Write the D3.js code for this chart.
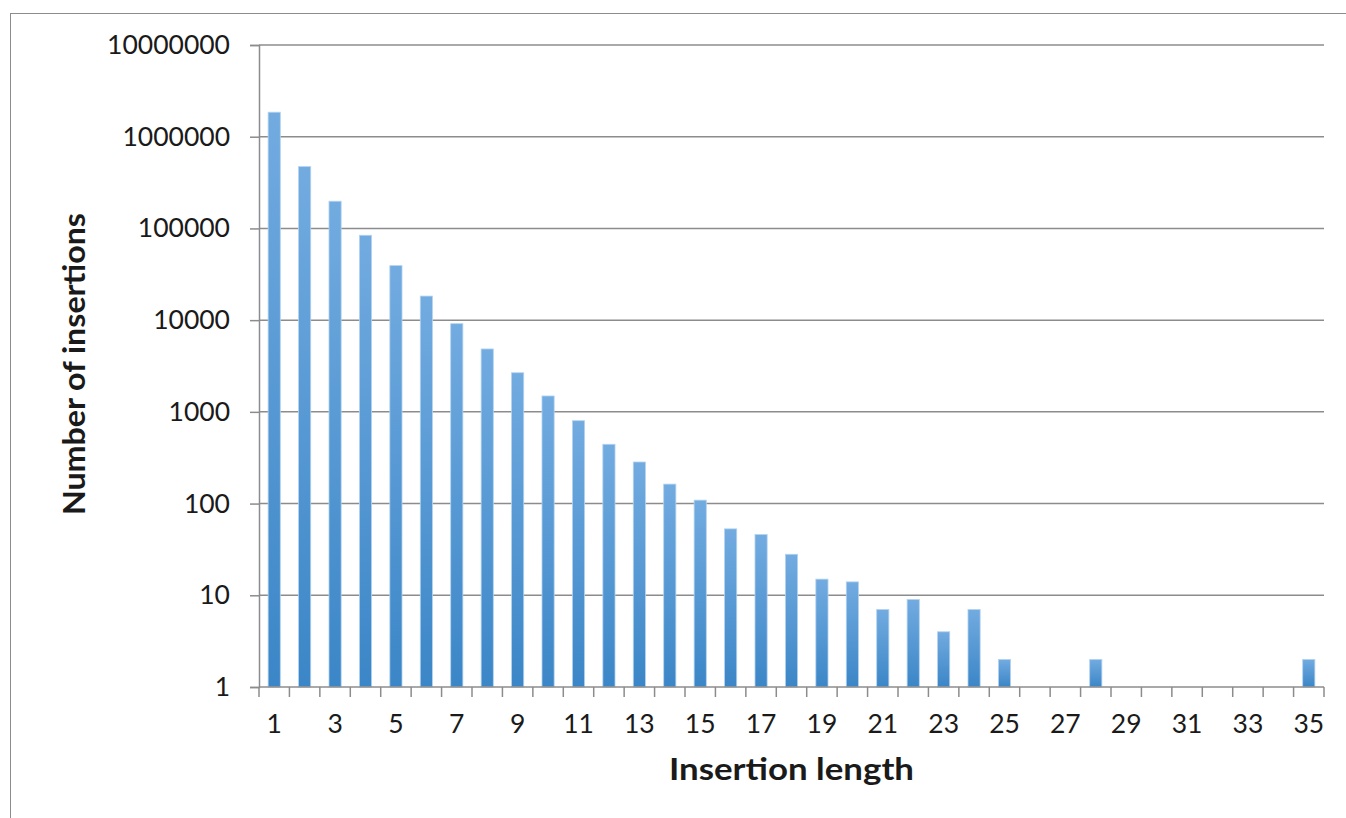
<!DOCTYPE html>
<html>
<head>
<meta charset="utf-8">
<script src="https://cdn.jsdelivr.net/npm/d3@7"></script>
<style>
  html, body { margin: 0; padding: 0; background: #fff; }
  svg { display: block; }
  text { font-family: Lato, "Open Sans", sans-serif; fill: #1a1a1a; }
</style>
</head>
<body>
<svg id="chart" width="1346" height="818"></svg>
<script>
// ---- data ----
const categories = d3.range(1, 36);
const counts = [1850000, 472000, 198000, 84200, 39300, 18300, 9150, 4850, 2670, 1490,
                801, 443, 284, 163, 109, 53, 46, 28, 15, 14,
                7, 9, 4, 7, 2, null, null, 2, null, null,
                null, null, null, null, 2];
const yTickValues = [1, 10, 100, 1000, 10000, 100000, 1000000, 10000000];
const xTickLabels = categories.filter(c => c % 2 === 1);
const xTitle = "Insertion length";
const yTitle = "Number of insertions";

// ---- layout ----
const svg = d3.select("#chart");
const plotL = 259, plotR = 1324, plotT = 45, plotB = 687;

// outer frame
svg.append("rect")
  .attr("x", 10.5).attr("y", 13.5)
  .attr("width", 1400).attr("height", 900)
  .attr("fill", "none").attr("stroke", "#8c8c8c").attr("stroke-width", 1);

const x = d3.scaleBand().domain(categories).range([plotL, plotR])
  .paddingInner(0.6).paddingOuter(0.3);
const y = d3.scaleLog().domain([1, 1e7]).range([plotB, plotT]);

// gradient
const defs = svg.append("defs");
const grad = defs.append("linearGradient").attr("id", "barGrad")
  .attr("x1", 0).attr("y1", 0).attr("x2", 0).attr("y2", 1);
grad.append("stop").attr("offset", "0%").attr("stop-color", "#72abe0");
grad.append("stop").attr("offset", "100%").attr("stop-color", "#3b86c7");

// gridlines
svg.append("g").selectAll("line").data(yTickValues.filter(v => v > 1)).join("line")
  .attr("x1", plotL).attr("x2", plotR)
  .attr("y1", d => y(d)).attr("y2", d => y(d))
  .attr("stroke", "#8c8c8c").attr("stroke-width", 1.5);

// y axis
const yAxis = d3.axisLeft(y).tickValues(yTickValues).tickFormat(d3.format("d"))
  .tickSize(9).tickPadding(20);
const gy = svg.append("g").attr("transform", `translate(${plotL},0)`).call(yAxis);
gy.select(".domain").attr("stroke", "#8c8c8c").attr("stroke-width", 1.5);
gy.selectAll(".tick line").attr("stroke", "#8c8c8c").attr("stroke-width", 1.5);
gy.selectAll(".tick text").attr("font-size", 26.5).attr("fill", "#1a1a1a")
  .attr("font-family", "Lato, 'Open Sans', sans-serif");

// bars
const barData = categories.map((c, i) => ({ c, v: counts[i] })).filter(d => d.v != null);
svg.append("g").selectAll("rect").data(barData).join("rect")
  .attr("x", d => x(d.c))
  .attr("width", x.bandwidth())
  .attr("y", d => y(d.v))
  .attr("height", d => y(1) - y(d.v))
  .attr("fill", "url(#barGrad)")
  .attr("stroke", "#b3d3f0").attr("stroke-width", 0.8);

// x axis
const gx = svg.append("g").attr("transform", `translate(0,${plotB})`);
gx.append("line").attr("x1", plotL).attr("x2", plotR).attr("y1", 0).attr("y2", 0)
  .attr("stroke", "#8c8c8c").attr("stroke-width", 1.5);
const boundaries = categories.map(c => x(c) - x.step() * x.paddingInner() / 2);
boundaries.push(plotR);
gx.selectAll("line.tk").data(boundaries).join("line").attr("class", "tk")
  .attr("x1", d => d).attr("x2", d => d).attr("y1", 0).attr("y2", 10)
  .attr("stroke", "#8c8c8c").attr("stroke-width", 1.5);
gx.selectAll("text.lb").data(xTickLabels).join("text").attr("class", "lb")
  .attr("x", d => x(d) + x.bandwidth() / 2)
  .attr("y", 46)
  .attr("text-anchor", "middle")
  .attr("font-size", 26.5)
  .text(d => d);

// titles
svg.append("text")
  .attr("x", (plotL + plotR) / 2).attr("y", 780)
  .attr("text-anchor", "middle")
  .attr("font-size", 30).attr("font-weight", "bold")
  .attr("textLength", 245).attr("lengthAdjust", "spacingAndGlyphs")
  .text(xTitle);

svg.append("text")
  .attr("transform", `translate(85,364) rotate(-90)`)
  .attr("text-anchor", "middle")
  .attr("font-size", 30).attr("font-weight", "bold")
  .attr("textLength", 302).attr("lengthAdjust", "spacingAndGlyphs")
  .text(yTitle);
</script>
</body>
</html>
